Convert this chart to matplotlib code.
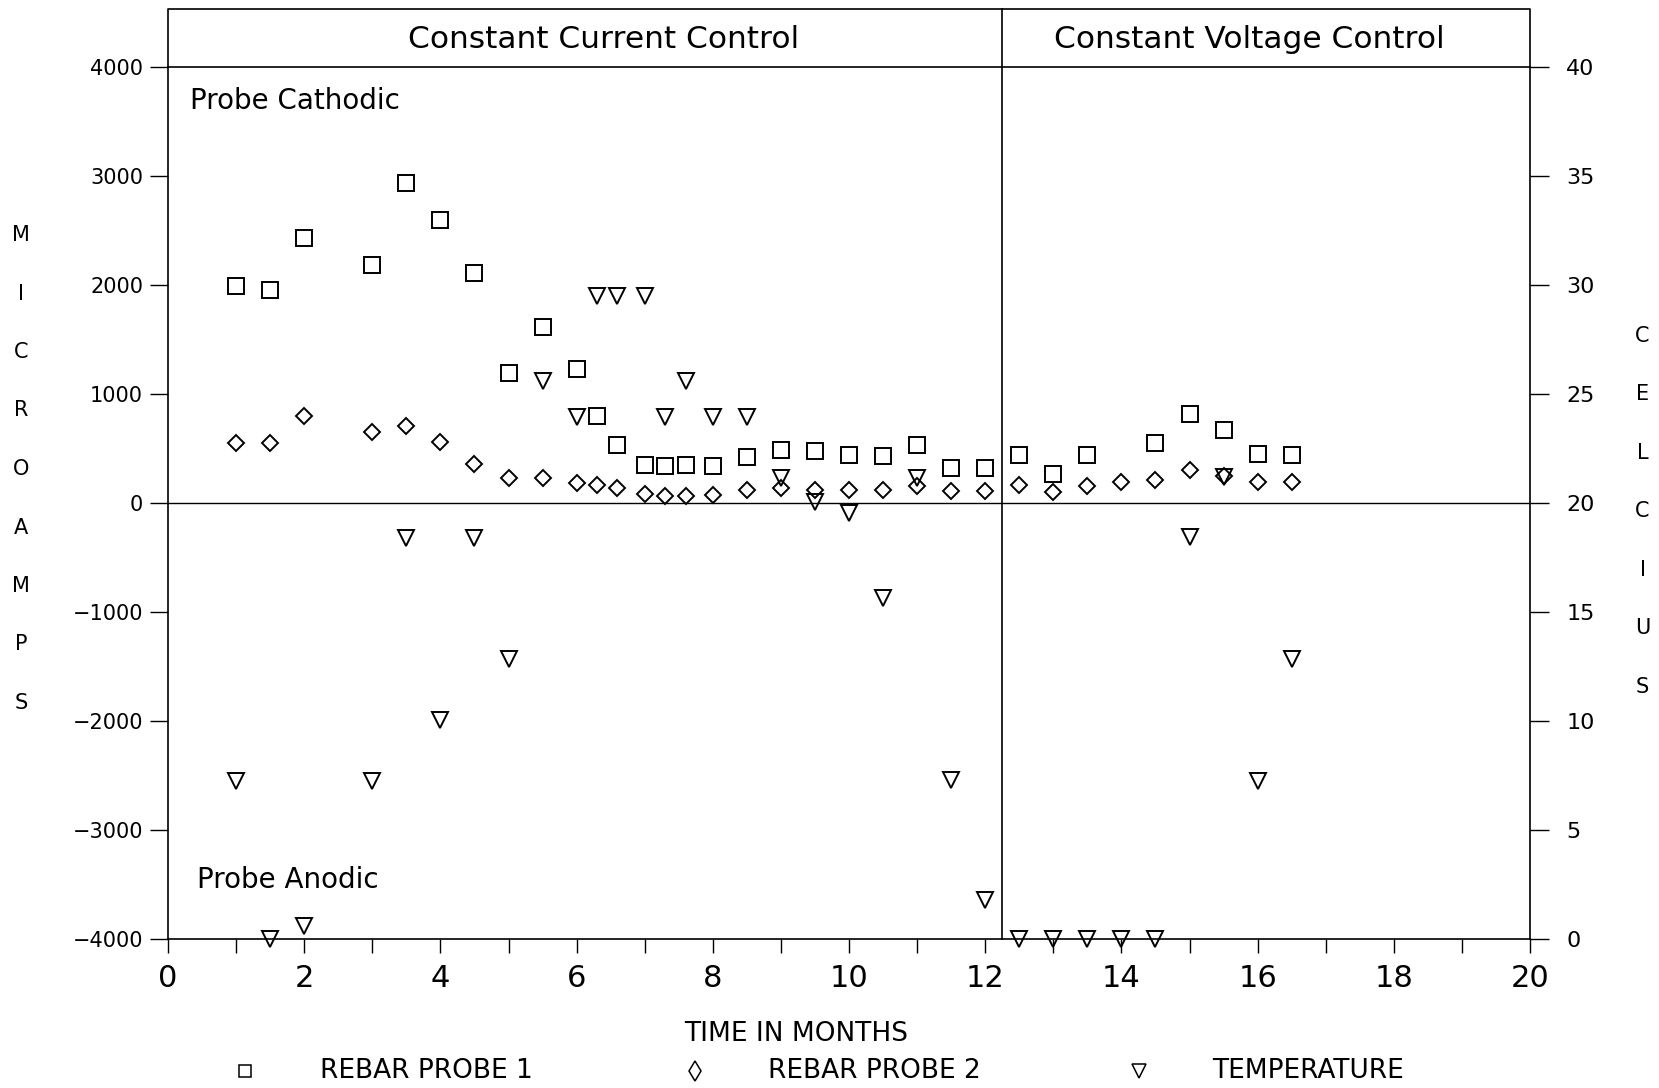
import matplotlib
matplotlib.use("Agg")
import matplotlib.pyplot as plt
from matplotlib.lines import Line2D

# ---------------- data ----------------
months_p1 = [1, 1.5, 2, 3, 3.5, 4, 4.5, 5, 5.5, 6, 6.3, 6.6, 7, 7.3, 7.6, 8, 8.5, 9,
             9.5, 10, 10.5, 11, 11.5, 12, 12.5, 13, 13.5, 14.5, 15, 15.5, 16, 16.5]
probe1 = [1990, 1950, 2430, 2180, 2930, 2590, 2105, 1190, 1610, 1230, 800, 530, 345, 343,
          345, 340, 425, 485, 475, 440, 430, 530, 325, 325, 440, 270, 440, 550, 820, 665,
          450, 440]

months_p2 = [1, 1.5, 2, 3, 3.5, 4, 4.5, 5, 5.5, 6, 6.3, 6.6, 7, 7.3, 7.6, 8, 8.5, 9,
             9.5, 10, 10.5, 11, 11.5, 12, 12.5, 13, 13.5, 14, 14.5, 15, 15.5, 16, 16.5]
probe2 = [550, 550, 795, 650, 703, 559, 362, 230, 230, 187, 162, 140, 80, 63, 63, 73, 116,
          141, 122, 122, 119, 156, 107, 107, 165, 104, 159, 196, 211, 300, 251, 196, 196]

months_t = [1, 1.5, 2, 3, 3.5, 4, 4.5, 5, 5.5, 6, 6.3, 6.6, 7, 7.3, 7.6, 8, 8.5, 9,
            9.5, 10, 10.5, 11, 11.5, 12, 12.5, 13, 13.5, 14, 14.5, 15, 15.5, 16, 16.5]
temperature = [7.25, 0.0, 0.6, 7.25, 18.4, 10.05, 18.4, 12.85, 25.6, 23.95, 29.5, 29.5,
               29.5, 23.95, 25.6, 23.95, 23.95, 21.15, 20.05, 19.55, 15.65, 21.15, 7.3,
               1.8, 0.0, 0.0, 0.0, 0.0, 0.0, 18.45, 21.2, 7.25, 12.85]

x_ticks = list(range(0, 21, 2))
x_minor = list(range(0, 21))
ua_ticks = list(range(-4000, 4001, 1000))
c_ticks = list(range(0, 41, 5))
switch_month = 12.25
section_labels = ["Constant Current Control", "Constant Voltage Control"]
section_centers = [6.40, 15.88]
legend_labels = ["REBAR PROBE 1", "REBAR PROBE 2", "TEMPERATURE"]

W, H = 1659, 1088
fig = plt.figure(figsize=(W / 100, H / 100), dpi=100)
fig.patch.set_facecolor("white")

def fx(px):
    return px / W

def fy(py):
    return 1 - py / H

left, right, top, bottom = 168, 1530, 66.7, 939.3
ax = fig.add_axes([fx(left), fy(bottom), (right - left) / W, (bottom - top) / H])
ax.set_xlim(0, 20)
ax.set_ylim(-4000, 4000)
ax2 = ax.twinx()
ax2.set_ylim(0, 40)

mew = 1.4
ax.plot(months_p1, probe1, linestyle="none", marker="s", markersize=12,
        markerfacecolor="none", markeredgecolor="black", markeredgewidth=mew, zorder=3)
ax.plot(months_p2, probe2, linestyle="none", marker="D", markersize=8.6,
        markerfacecolor="none", markeredgecolor="black", markeredgewidth=mew, zorder=3)
ax2.plot(months_t, temperature, linestyle="none", marker="v", markersize=12,
         markerfacecolor="none", markeredgecolor="black", markeredgewidth=mew, zorder=3,
         clip_on=False)

# zero line
ax.axhline(0, color="black", lw=1.0, zorder=1)

# spines
for s in ax.spines.values():
    s.set_linewidth(1.2)
    s.set_color("black")
for s in ax2.spines.values():
    s.set_visible(False)

# header band
hdr = 1 + (top - 9.3) / (bottom - top)
tr = ax.get_xaxis_transform()
ax.plot([0, 0, 20, 20], [1, hdr, hdr, 1], transform=tr, clip_on=False,
        color="black", lw=1.2)
ax.plot([switch_month, switch_month], [0, hdr], transform=tr, clip_on=False,
        color="black", lw=1.2)
ymid = 1 + (top - 39) / (bottom - top)
for lab, cx in zip(section_labels, section_centers):
    ax.text(cx, ymid, lab, transform=tr, ha="center", va="center", fontsize=22.5)

# ticks
ax.set_xticks(x_ticks)
ax.set_xticks(x_minor, minor=True)
ax.tick_params(axis="x", which="both", direction="out", length=10, width=1.0,
               labelsize=22, pad=8)
ax.set_yticks(ua_ticks)
ax.tick_params(axis="y", direction="out", length=13, width=1.0, labelsize=15, pad=5)
ax2.set_yticks(c_ticks)
ax2.tick_params(axis="y", direction="out", length=14, width=1.0, labelsize=16, pad=12)

# annotations inside
ax.text(0.33, 3685, "Probe Cathodic", ha="left", va="center", fontsize=20)
ax.text(0.42, -3455, "Probe Anodic", ha="left", va="center", fontsize=20)

# axis titles
fig.text(fx(796), fy(1034), "TIME IN MONTHS", ha="center", va="center", fontsize=19)
for i, ch in enumerate("MICROAMPS"):
    fig.text(fx(21), fy(235 + i * 58.5), ch, ha="center", va="center", fontsize=15)
for i, ch in enumerate("CELCIUS"):
    fig.text(fx(1642.6), fy(335.5 + i * 58.6), ch, ha="center", va="center", fontsize=15)

# legend (manual)
leg_y = 1071
leg_markers = [("s", 9), ("d", 10), ("v", 9.5)]
leg_mx = [245.5, 695, 1138.5]
leg_tx = [319.5, 768, 1212.5]
for (m, ms), mx, tx, lab in zip(leg_markers, leg_mx, leg_tx, legend_labels):
    fig.add_artist(Line2D([fx(mx)], [fy(leg_y)], transform=fig.transFigure,
                          marker=m, markersize=ms, markerfacecolor="none",
                          markeredgecolor="black", markeredgewidth=1.1, linestyle="none"))
    fig.text(fx(tx), fy(leg_y), lab, ha="left", va="center", fontsize=19)

fig.savefig("out.png", dpi=100, facecolor="white")
